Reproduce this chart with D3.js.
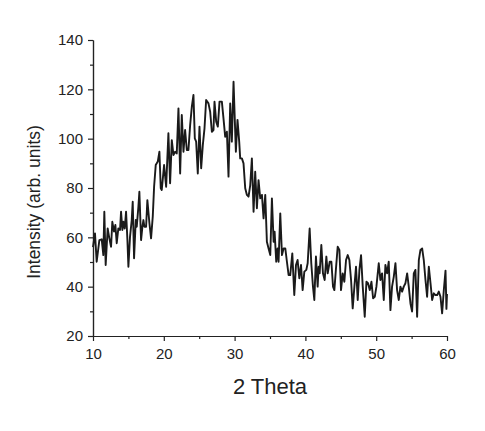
<!DOCTYPE html>
<html>
<head>
<meta charset="utf-8">
<script src="https://cdn.jsdelivr.net/npm/d3@7"></script>
<style>
    body { margin: 0; background: #ffffff; }
    .axis text { font-family: "Liberation Sans", Arial, sans-serif; font-size: 15px; fill: #222; }
    .axis path, .axis line { stroke: #222; stroke-width: 1.2; }
</style>
</head>
<body>
<div id="xrd"></div>
<script>
// data (2 theta in degrees, intensity in arb. units)
var theta = [
    10.0, 10.28, 10.52, 10.9, 11.23, 11.46, 11.6, 11.79, 12.07, 12.31, 12.55, 12.73, 12.97, 13.16, 13.35,
    13.58, 13.82, 13.96, 14.15, 14.29, 14.48, 14.67, 14.86, 15.0, 15.23, 15.47, 15.61, 15.8, 16.04, 16.18,
    16.41, 16.55, 16.79, 16.98, 17.12, 17.26, 17.5, 17.68, 17.97, 18.2, 18.44, 18.63, 18.86, 19.15, 19.38,
    19.57, 19.71, 20.04, 20.33, 20.65, 20.89, 21.13, 21.36, 21.6, 21.83, 22.07, 22.31, 22.54, 22.78, 23.01,
    23.25, 23.48, 23.72, 23.96, 24.19, 24.38, 24.57, 24.8, 25.04, 25.28, 25.51, 25.75, 25.98, 26.31, 26.55,
    26.79, 27.02, 27.16, 27.4, 27.63, 27.87, 28.2, 28.43, 28.67, 28.91, 29.14, 29.38, 29.61, 29.85, 30.18,
    30.41, 30.65, 30.79, 31.03, 31.26, 31.5, 31.74, 31.97, 32.21, 32.44, 32.68, 32.91, 33.15, 33.38, 33.62,
    33.86, 34.09, 34.33, 34.56, 34.8, 35.04, 35.27, 35.51, 35.65, 35.88, 36.07, 36.21, 36.45, 36.69, 36.92,
    37.16, 37.39, 37.63, 37.86, 38.15, 38.43, 38.67, 38.9, 39.14, 39.38, 39.61, 39.85, 40.13, 40.32, 40.6,
    40.83, 41.07, 41.26, 41.49, 41.73, 41.87, 42.01, 42.25, 42.48, 42.72, 42.96, 43.15, 43.43, 43.67, 43.9,
    44.09, 44.32, 44.56, 44.8, 45.03, 45.27, 45.5, 45.74, 45.98, 46.21, 46.45, 46.68, 46.92, 47.15, 47.39,
    47.63, 47.86, 48.1, 48.38, 48.62, 48.85, 49.09, 49.33, 49.56, 49.8, 50.03, 50.36, 50.59, 50.83, 51.07,
    51.3, 51.54, 51.77, 52.01, 52.24, 52.48, 52.72, 52.95, 53.19, 53.42, 53.66, 53.89, 54.13, 54.37, 54.6,
    54.84, 55.07, 55.31, 55.54, 55.78, 56.02, 56.25, 56.49, 56.72, 56.96, 57.19, 57.43, 57.67, 57.9, 58.14,
    58.37, 58.61, 58.84, 59.08, 59.31, 59.55, 59.79, 59.92, 60.0
];
var intensity = [
    56, 61.6, 50.1, 58.9, 59.2, 52.8, 70.4, 48.8, 63.6, 59.6, 56.2, 66.3, 62.3, 65, 57.6,
    63.6, 63, 70.4, 63, 66.3, 63.6, 70.4, 58.9, 48.1, 60.3, 67, 74.4, 51.5, 67, 64.3,
    72.4, 78.5, 58.9, 64.3, 67, 64.3, 64.3, 75.1, 65.7, 59.6, 68.4, 80.5, 89.3, 90.7, 94.7,
    79.9, 79.2, 89.3, 80.5, 102.2, 81.9, 99.4, 93.4, 94.7, 94, 112.3, 85.9, 109.6, 94.7, 103.5,
    95.4, 95.4, 105.5, 113, 117.7, 100.1, 98.8, 85.9, 104.9, 88, 97.4, 104.2, 115.7, 114.3, 110.9,
    102.8, 103.5, 115, 106.9, 104.9, 115, 115, 108.2, 100.8, 102.8, 84.6, 114.3, 98.8, 123.1, 94.7,
    107.6, 98.8, 92, 92, 90, 79.9, 77.2, 76.5, 81.2, 92, 70.4, 86.6, 71.8, 83.2, 75.8,
    77.2, 67.7, 77.2, 58.2, 55.5, 52.8, 75.8, 58.2, 62.3, 50.1, 55.5, 50.1, 69.7, 52.8, 55.5,
    55.5, 50.1, 44.7, 44.7, 53.5, 36.6, 48.8, 50.8, 43.4, 48.8, 38.6, 46.1, 46.8, 49.5, 63.6,
    49.5, 40, 34.6, 52.2, 40, 48.1, 45.4, 56.9, 45.4, 42.7, 52.2, 45.4, 50.1, 50.1, 40,
    38.6, 47.4, 56.2, 54.9, 38.6, 45.4, 42, 50.8, 52.8, 50.8, 42.7, 31.2, 40, 48.1, 34.6,
    46.8, 52.8, 40, 27.8, 42, 41.4, 38.6, 42, 35.3, 35.9, 40, 49.5, 42.7, 45.4, 34.6,
    48.8, 45.4, 50.1, 30.5, 40, 44, 49.5, 38.6, 34.6, 40, 38, 40, 41.4, 45.4, 40,
    33.2, 29.9, 45.4, 46.8, 27.8, 50.8, 54.9, 55.5, 50.8, 42.7, 35.9, 48.1, 41.4, 34.6, 37.3,
    36.6, 36.6, 38, 35.9, 29.2, 38.6, 46.5, 31, 37
];
var xTicks = [10, 20, 30, 40, 50, 60];
var yTicks = [20, 40, 60, 80, 100, 120, 140];

(function () {

    var width = 485,
        height = 431;

    // plot box in pixels
    var left = 93, right = 447, top = 40, bottom = 336;

    var x = d3.scaleLinear().domain([10, 60]).range([left, right]);
    var y = d3.scaleLinear().domain([20, 140]).range([bottom, top]);

    var svg = d3.select("#xrd").append("svg")
        .attr("width", width)
        .attr("height", height);

    // minor ticks first, then the labelled axes on top
    svg.append("g")
        .attr("class", "axis")
        .attr("transform", "translate(0," + bottom + ")")
        .call(d3.axisBottom(x).tickValues(d3.range(15, 60, 10)).tickSize(3).tickSizeOuter(0).tickFormat(""));

    svg.append("g")
        .attr("class", "axis")
        .attr("transform", "translate(" + left + ",0)")
        .call(d3.axisLeft(y).tickValues(d3.range(30, 140, 20)).tickSize(3).tickSizeOuter(0).tickFormat(""));

    svg.append("g")
        .attr("class", "axis")
        .attr("transform", "translate(0," + bottom + ")")
        .call(d3.axisBottom(x).tickValues(xTicks).tickSize(5).tickSizeOuter(0).tickPadding(7));

    svg.append("g")
        .attr("class", "axis")
        .attr("transform", "translate(" + left + ",0)")
        .call(d3.axisLeft(y).tickValues(yTicks).tickSize(5).tickSizeOuter(0).tickPadding(5));

    // the pattern itself
    var data = theta.map(function (d, i) {
        return { t: d, v: intensity[i] };
    });

    var line = d3.line()
        .x(function (d) { return x(d.t); })
        .y(function (d) { return y(d.v); });

    svg.append("path")
        .datum(data)
        .attr("fill", "none")
        .attr("stroke", "#1a1a1a")
        .attr("stroke-width", 1.9)
        .attr("stroke-linejoin", "round")
        .attr("d", line);

    // axis titles
    svg.append("text")
        .attr("x", (left + right) / 2)
        .attr("y", 394)
        .attr("text-anchor", "middle")
        .style("font-family", "Liberation Sans, Arial, sans-serif")
        .style("font-size", "22px")
        .style("fill", "#222")
        .text("2 Theta");

    svg.append("text")
        .attr("transform", "translate(40,202) rotate(-90)")
        .attr("text-anchor", "middle")
        .style("font-family", "Liberation Sans, Arial, sans-serif")
        .style("font-size", "17.5px")
        .style("fill", "#222")
        .text("Intensity (arb. units)");

})();
</script>
</body>
</html>
